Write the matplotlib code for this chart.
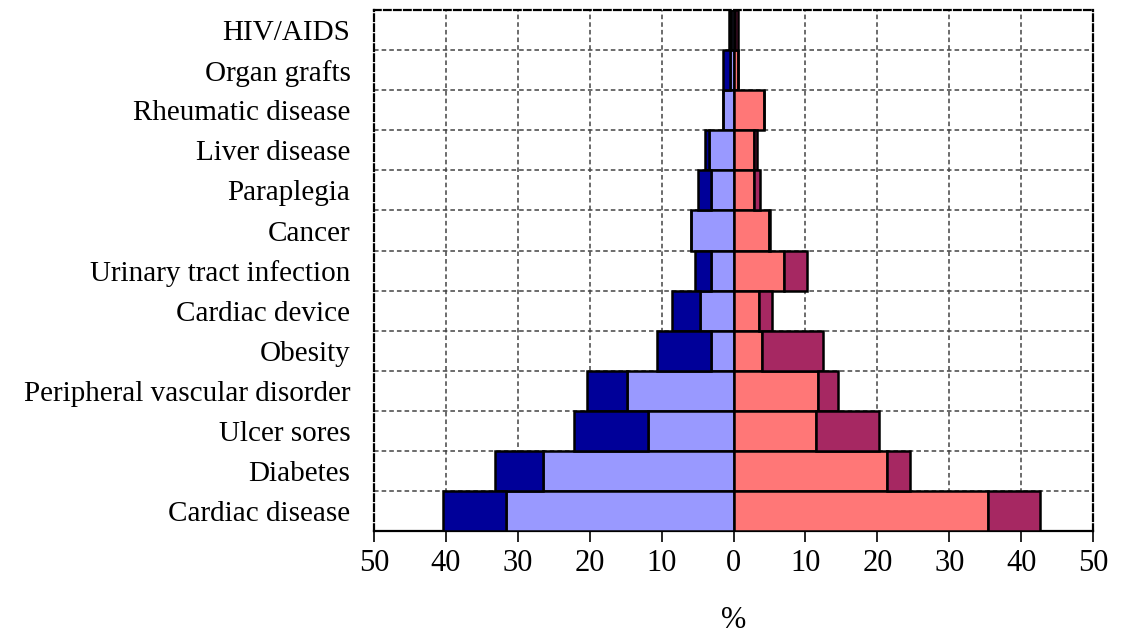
import numpy as np
import matplotlib.pyplot as plt

categories = ["HIV/AIDS", "Organ grafts", "Rheumatic disease", "Liver disease",
              "Paraplegia", "Cancer", "Urinary tract infection", "Cardiac device",
              "Obesity", "Peripheral vascular disorder", "Ulcer sores", "Diabetes",
              "Cardiac disease"]

# left side (plotted as negative): inner light part and outer dark part
left_light = [0.3, 0.5, 1.5, 3.4, 3.2, 5.9, 3.1, 4.6, 3.1, 14.8, 11.9, 26.5, 31.6]
left_dark = [0.4, 0.9, 0.0, 0.6, 1.7, 0.0, 2.3, 3.9, 7.6, 5.6, 10.3, 6.7, 8.8]
# right side: inner salmon part and outer maroon part
right_light = [0.2, 0.6, 4.2, 2.8, 2.8, 4.9, 7.0, 3.6, 4.0, 11.8, 11.5, 21.4, 35.4]
right_dark = [0.4, 0.0, 0.0, 0.4, 0.9, 0.2, 3.2, 1.8, 8.5, 2.7, 8.7, 3.2, 7.2]

ticks = [-50, -40, -30, -20, -10, 0, 10, 20, 30, 40, 50]

plt.rcParams['font.family'] = ['Liberation Serif', 'DejaVu Serif']

fig = plt.figure(figsize=(11.28, 6.33), dpi=100)
ax = fig.add_axes([0.3316, 0.161, 0.6374, 0.823])

y = np.arange(len(categories))
ll = np.array(left_light)
ld = np.array(left_dark)
rl = np.array(right_light)
rd = np.array(right_dark)

ax.barh(y, -ll, height=1.0, color='#9999FF', edgecolor='black', linewidth=1.8, zorder=3)
ax.barh(y, -ld, left=-ll, height=1.0, color='#000099', edgecolor='black', linewidth=1.8, zorder=3)
ax.barh(y, rl, height=1.0, color='#FF7777', edgecolor='black', linewidth=1.8, zorder=3)
ax.barh(y, rd, left=rl, height=1.0, color='#A62862', edgecolor='black', linewidth=1.8, zorder=3)

ax.set_xlim(-50, 50)
ax.set_ylim(len(categories) - 0.5, -0.5)
ax.set_yticks(y)
ax.set_yticklabels(categories, fontsize=21)
ax.tick_params(axis='y', length=0, pad=17)
ax.set_xticks(ticks)
ax.set_xticklabels([str(abs(t)) for t in ticks], fontsize=22)
ax.tick_params(axis='x', length=8, width=1.2, pad=5, direction='out')

# grid: vertical at ticks, horizontal at row boundaries
for t in ticks[1:-1]:
    ax.axvline(t, color='#444444', linestyle=(0, (3, 2)), linewidth=1.1, zorder=1)
for b in np.arange(0.5, len(categories) - 1, 1):
    ax.axhline(b, color='#444444', linestyle=(0, (3, 2)), linewidth=1.1, zorder=1)

for s in ['top', 'left', 'right']:
    ax.spines[s].set_linestyle((0, (3, 1.5)))
    ax.spines[s].set_linewidth(1.6)
ax.spines['bottom'].set_linewidth(1.6)

ax.set_xlabel('%', fontsize=22, labelpad=20)

fig.savefig('out.png', dpi=100)
